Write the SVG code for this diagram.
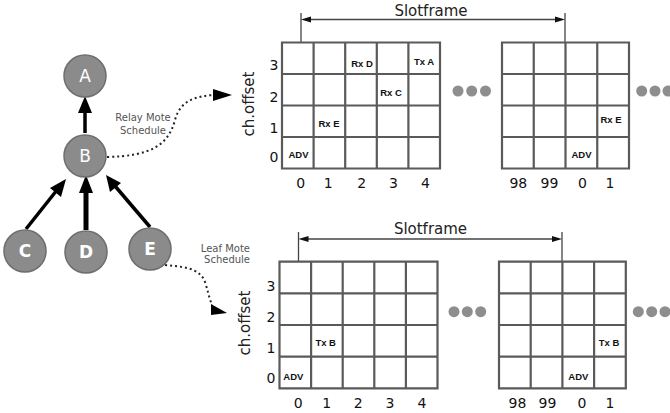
<svg xmlns="http://www.w3.org/2000/svg" width="670" height="413" viewBox="0 0 670 413">
<style>
.node circle{fill:#8b8b8b;stroke:#6e6e6e;stroke-width:1.5}
.node text{fill:#fff;font-family:"DejaVu Sans",sans-serif;font-size:17px;text-anchor:middle}
.grid rect{fill:#fff;stroke:none}
.grid path{fill:none;stroke:#5a5a5a;stroke-width:2.2}
.lbl{font-family:"DejaVu Sans",sans-serif;font-size:14px;fill:#111;text-anchor:middle}
.cell{font-family:"Liberation Sans",Arial,sans-serif;font-size:9.5px;font-weight:bold;fill:#111;text-anchor:middle}
.axis{font-family:"DejaVu Sans",sans-serif;font-size:15px;fill:#222;text-anchor:middle}
.note{font-family:"DejaVu Sans",sans-serif;font-size:10px;fill:#555;text-anchor:middle}
.dot{fill:#8e8e8e}
.sf{stroke:#444;stroke-width:1.3;fill:none}
</style>

<g id="connectors">
  <g stroke="#000" fill="#000">
    <line x1="85" y1="133" x2="85" y2="112" stroke-width="3.5"/>
    <polygon points="85,96 78,113 92,113" stroke="none"/>
    <line x1="26" y1="229" x2="57" y2="190" stroke-width="3.5"/>
    <polygon points="66,179 50,188 61,197" stroke="none"/>
    <line x1="86" y1="230" x2="86" y2="191" stroke-width="5"/>
    <polygon points="86,175 79,193 93,193" stroke="none"/>
    <line x1="150" y1="227" x2="115" y2="186" stroke-width="3.5"/>
    <polygon points="106,175 110,192 121,183" stroke="none"/>
  </g>
  <path d="M107,157 C150,156 168,146 175,120 C180,101 195,96 214,95" fill="none" stroke="#222" stroke-width="2" stroke-dasharray="2,3"/>
  <polygon points="213,89 232,95 213,101" fill="#000"/>
  <path d="M165,265 C190,267 202,270 206,285 C209,296 210,300 212,305" fill="none" stroke="#222" stroke-width="2" stroke-dasharray="2,3"/>
  <polygon points="211,304 227,313 211,315" fill="#000"/>
</g>

<g id="node-A" class="node"><circle cx="85" cy="76" r="21"/><text x="85" y="82">A</text></g>
<g id="node-B" class="node"><circle cx="85" cy="156" r="21"/><text x="85" y="162">B</text></g>
<g id="node-C" class="node"><circle cx="25" cy="251" r="21"/><text x="25" y="257" font-weight="bold">C</text></g>
<g id="node-D" class="node"><circle cx="86" cy="252" r="21"/><text x="86" y="258" font-weight="bold">D</text></g>
<g id="node-E" class="node"><circle cx="150" cy="249" r="21"/><text x="150" y="255" font-weight="bold">E</text></g>

<g id="labels-tree">
  <text class="note" x="143" y="121">Relay Mote</text>
  <text class="note" x="143" y="133.5">Schedule</text>
  <text class="note" x="250" y="251.5" text-anchor="end" style="text-anchor:end">Leaf Mote</text>
  <text class="note" x="250" y="263" style="text-anchor:end">Schedule</text>
</g>

<!-- Top schedule -->
<g id="top-slotframe">
  <line class="sf" x1="301" y1="13" x2="301" y2="42.5"/>
  <line class="sf" x1="565" y1="13" x2="565" y2="42.5"/>
  <line class="sf" x1="309" y1="19.5" x2="557" y2="19.5"/>
  <polygon points="301,19.5 311,16.5 311,22.5" fill="#111"/>
  <polygon points="565,19.5 555,16.5 555,22.5" fill="#111"/>
  <text class="axis" x="431" y="15.5">Slotframe</text>
</g>
<g id="top-grid-1" class="grid">
  <rect x="282" y="42.5" width="158" height="126"/>
  <path d="M282,42.5H440V168.5H282Z M282,74H440 M282,105.5H440 M282,137H440 M313.6,42.5V168.5 M345.2,42.5V168.5 M376.8,42.5V168.5 M408.4,42.5V168.5"/>
  <text class="cell" x="362" y="66.5">Rx D</text>
  <text class="cell" x="424" y="64.5">Tx A</text>
  <text class="cell" x="391" y="95.5">Rx C</text>
  <text class="cell" x="329" y="126.5">Rx E</text>
  <text class="cell" x="298.5" y="157.5">ADV</text>
</g>
<g id="top-grid-2" class="grid">
  <rect x="502" y="42.5" width="127" height="126"/>
  <path d="M502,42.5H629V168.5H502Z M502,74H629 M502,105.5H629 M502,137H629 M533.75,42.5V168.5 M565.5,42.5V168.5 M597.25,42.5V168.5"/>
  <text class="cell" x="611" y="122.5">Rx E</text>
  <text class="cell" x="581.5" y="157.5">ADV</text>
</g>
<g id="top-axes">
  <text class="axis" transform="translate(253.5,104) rotate(-90)">ch.offset</text>
  <text class="lbl" x="274" y="70">3</text>
  <text class="lbl" x="274" y="101.7">2</text>
  <text class="lbl" x="274" y="133">1</text>
  <text class="lbl" x="274" y="161.7">0</text>
  <text class="lbl" x="300.8" y="188">0</text>
  <text class="lbl" x="328.3" y="188">1</text>
  <text class="lbl" x="361.8" y="188">2</text>
  <text class="lbl" x="393.5" y="188">3</text>
  <text class="lbl" x="425.5" y="188">4</text>
  <text class="lbl" x="518.3" y="188">98</text>
  <text class="lbl" x="549.5" y="188">99</text>
  <text class="lbl" x="582.5" y="188">0</text>
  <text class="lbl" x="610" y="188">1</text>
  <circle class="dot" cx="458" cy="91" r="5.5"/>
  <circle class="dot" cx="471.7" cy="91" r="5.5"/>
  <circle class="dot" cx="485.5" cy="91" r="5.5"/>
  <circle class="dot" cx="641.7" cy="91" r="5.5"/>
  <circle class="dot" cx="655" cy="91" r="5.5"/>
  <circle class="dot" cx="668" cy="91" r="5.5"/>
</g>

<!-- Bottom schedule -->
<g id="bottom-slotframe">
  <line class="sf" x1="298.5" y1="232" x2="298.5" y2="261.7"/>
  <line class="sf" x1="562" y1="232" x2="562" y2="261.7"/>
  <line class="sf" x1="306" y1="239" x2="554" y2="239"/>
  <polygon points="298.5,239 308.5,236 308.5,242" fill="#111"/>
  <polygon points="562,239 552,236 552,242" fill="#111"/>
  <text class="axis" x="430.5" y="234">Slotframe</text>
</g>
<g id="bottom-grid-1" class="grid">
  <rect x="279.5" y="261.7" width="158" height="126.6"/>
  <path d="M279.5,261.7H437.5V388.3H279.5Z M279.5,293.35H437.5 M279.5,325H437.5 M279.5,356.65H437.5 M311.1,261.7V388.3 M342.7,261.7V388.3 M374.3,261.7V388.3 M405.9,261.7V388.3"/>
  <text class="cell" x="325.7" y="346">Tx B</text>
  <text class="cell" x="293.3" y="380">ADV</text>
</g>
<g id="bottom-grid-2" class="grid">
  <rect x="499" y="261.7" width="126.8" height="126.6"/>
  <path d="M499,261.7H625.8V388.3H499Z M499,293.35H625.8 M499,325H625.8 M499,356.65H625.8 M530.7,261.7V388.3 M562.4,261.7V388.3 M594.1,261.7V388.3"/>
  <text class="cell" x="609" y="346">Tx B</text>
  <text class="cell" x="578.3" y="379.5">ADV</text>
</g>
<g id="bottom-axes">
  <text class="axis" transform="translate(250,323) rotate(-90)">ch.offset</text>
  <text class="lbl" x="271" y="290.7">3</text>
  <text class="lbl" x="271" y="321.7">2</text>
  <text class="lbl" x="271" y="353.3">1</text>
  <text class="lbl" x="271" y="383.3">0</text>
  <text class="lbl" x="298.3" y="408">0</text>
  <text class="lbl" x="326.7" y="408">1</text>
  <text class="lbl" x="358.3" y="408">2</text>
  <text class="lbl" x="390" y="408">3</text>
  <text class="lbl" x="422" y="408">4</text>
  <text class="lbl" x="517.5" y="408">98</text>
  <text class="lbl" x="547.5" y="408">99</text>
  <text class="lbl" x="582" y="408">0</text>
  <text class="lbl" x="610" y="408">1</text>
  <circle class="dot" cx="454" cy="311.7" r="5.5"/>
  <circle class="dot" cx="467.3" cy="311.7" r="5.5"/>
  <circle class="dot" cx="480.7" cy="311.7" r="5.5"/>
  <circle class="dot" cx="638.3" cy="311.7" r="5.5"/>
  <circle class="dot" cx="651.7" cy="311.7" r="5.5"/>
  <circle class="dot" cx="665" cy="311.7" r="5.5"/>
</g>
</svg>
